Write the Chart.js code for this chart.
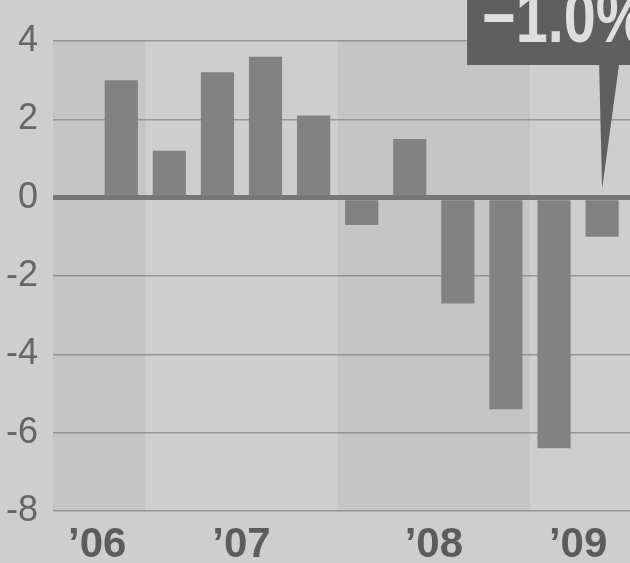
<!DOCTYPE html>
<html>
<head>
<meta charset="utf-8">
<script src="https://cdn.jsdelivr.net/npm/chart.js@4.4.1/dist/chart.umd.min.js"></script>
<style>
  html, body { margin: 0; padding: 0; background: #cecece; overflow: hidden; }
  canvas { display: block; }
</style>
</head>
<body>
<canvas id="gdpChart" width="630" height="563"></canvas>
<script>
// quarterly GDP change, annualised %
const quarters = ['Q3 06', 'Q4 06', 'Q1 07', 'Q2 07', 'Q3 07', 'Q4 07',
                  'Q1 08', 'Q2 08', 'Q3 08', 'Q4 08', 'Q1 09', 'Q2 09'];
const growth = [null, 3.0, 1.2, 3.2, 3.6, 2.1, -0.7, 1.5, -2.7, -5.4, -6.4, -1.0];
const yearLabels = ["\u201906", "\u201907", "\u201908", "\u201909"];
const yTicks = [4, 2, 0, -2, -4, -6, -8];
const shadedYears = ["\u201906", "\u201908"];
const calloutText = '\u22121.0%';

// which year each quarter belongs to
const yearOf = quarters.map(q => "\u2019" + q.slice(-2));

// year label position = middle of its quarters
const yearTicks = yearLabels.map(y => {
  const idx = [];
  yearOf.forEach((v, i) => { if (v === y) idx.push(i); });
  return { value: (idx[0] + idx[idx.length - 1]) / 2, label: y,
           from: idx[0] - 0.5, to: idx[idx.length - 1] + 0.5 };
});

const points = quarters.map((q, i) => ({ x: i, y: growth[i] }))
  .filter(p => p.y !== null);

const paper = {
  id: 'paper',
  beforeDraw(chart) {
    const c = chart.ctx, a = chart.chartArea, xs = chart.scales.x;
    c.save();
    c.fillStyle = '#cecece';
    c.fillRect(0, 0, chart.width, chart.height);
    c.fillStyle = '#c5c5c5';
    yearTicks.filter(t => shadedYears.includes(t.label)).forEach(t => {
      const l = Math.max(a.left, xs.getPixelForValue(t.from));
      const r = Math.min(a.right, xs.getPixelForValue(t.to));
      c.fillRect(l, a.top, r - l, a.bottom - a.top);
    });
    c.restore();
  }
};

const callout = {
  id: 'callout',
  afterDraw(chart) {
    const c = chart.ctx;
    const meta = chart.getDatasetMeta(0);
    const bar = meta.data[meta.data.length - 1];
    const tipX = bar.x;
    const tipY = chart.scales.y.getPixelForValue(0) - 9;
    const boxL = tipX - 135, boxB = 65;
    c.save();
    c.fillStyle = '#5f5f5f';
    c.fillRect(boxL, 0, chart.width - boxL, boxB);
    c.beginPath();
    c.moveTo(tipX - 3, boxB - 1);
    c.lineTo(tipX + 17, boxB - 1);
    c.lineTo(tipX, tipY);
    c.closePath();
    c.fill();
    c.fillStyle = '#dedede';
    c.font = 'bold 72px "Liberation Sans", Arial, sans-serif';
    c.textBaseline = 'alphabetic';
    c.translate(boxL + 15, 42);
    c.scale(0.8, 1);
    c.fillText(calloutText, 0, 0);
    c.restore();
  }
};

new Chart(document.getElementById('gdpChart'), {
  type: 'bar',
  data: {
    datasets: [{
      label: 'GDP',
      data: points,
      backgroundColor: '#828282',
      borderWidth: 0,
      categoryPercentage: 1,
      barPercentage: 0.69
    }]
  },
  options: {
    responsive: false,
    animation: false,
    layout: { padding: { top: 41, right: 0, left: 0, bottom: 0 } },
    plugins: { legend: { display: false }, tooltip: { enabled: false } },
    scales: {
      x: {
        type: 'linear',
        offset: false,
        min: -0.42,
        max: 11.58,
        grid: { display: false },
        border: { display: false },
        afterBuildTicks: (scale) => {
          scale.ticks = yearTicks.map(t => ({ value: t.value }));
        },
        afterFit: (scale) => { scale.height = 52; },
        ticks: {
          autoSkip: false,
          maxRotation: 0,
          padding: 5,
          color: '#5c5c5c',
          font: { family: '"Liberation Sans", Arial, sans-serif', size: 42, weight: 'bold', lineHeight: 1 },
          callback: (v) => {
            const t = yearTicks.find(t => t.value === v);
            return t ? t.label : '';
          }
        }
      },
      y: {
        min: -8,
        max: 4,
        afterBuildTicks: (scale) => {
          scale.ticks = yTicks.map(v => ({ value: v }));
        },
        afterFit: (scale) => { scale.width = 53; },
        border: { display: false },
        grid: {
          drawTicks: false,
          color: (ctx) => ctx.tick && ctx.tick.value === 0 ? '#767676' : '#959595',
          lineWidth: (ctx) => ctx.tick && ctx.tick.value === 0 ? 5 : 1.5
        },
        ticks: {
          padding: 15,
          color: '#666666',
          font: { family: '"Liberation Sans", Arial, sans-serif', size: 36 },
          callback: (v) => String(v)
        }
      }
    }
  },
  plugins: [paper, callout]
});
</script>
</body>
</html>
